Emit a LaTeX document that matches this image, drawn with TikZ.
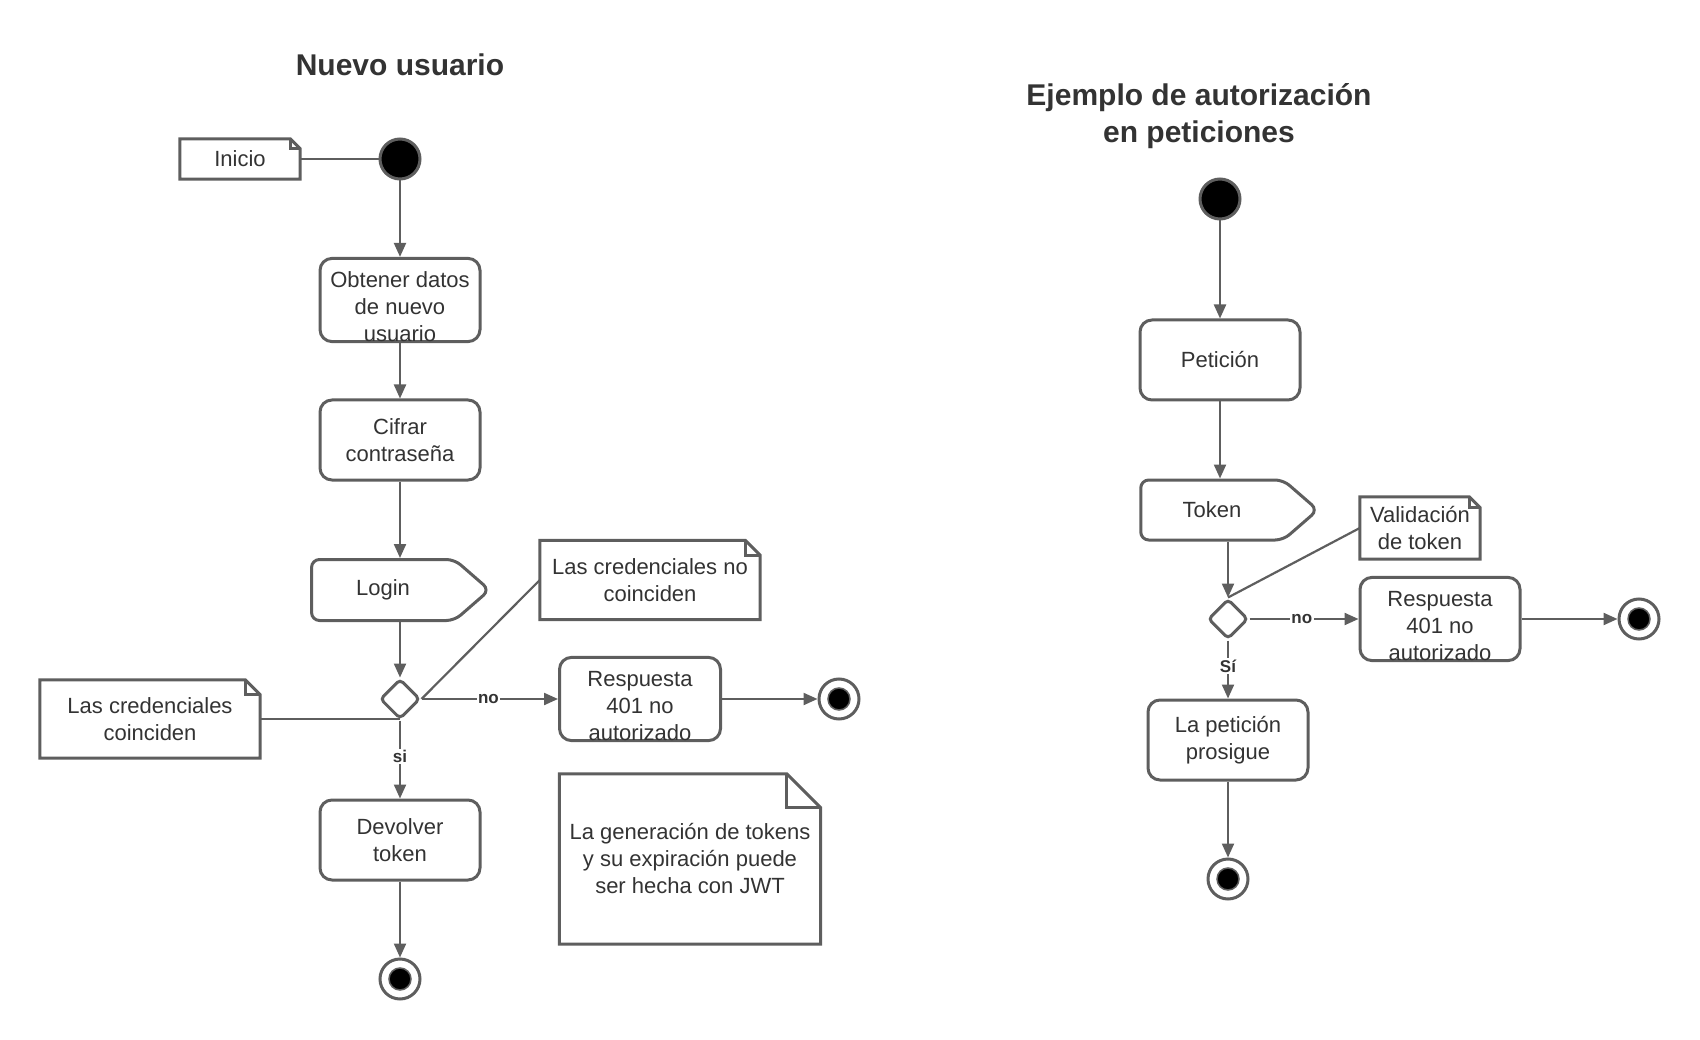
\documentclass[tikz,border=0pt]{standalone}
\usepackage{fontspec}
\setmainfont{Liberation Sans}
\usetikzlibrary{positioning,arrows.meta,shapes.geometric,shapes.symbols}
\definecolor{ink}{HTML}{333333}
\definecolor{edge}{HTML}{5E5E5E}
\newcommand{\lift}{\rule{0pt}{29pt}}
\tikzset{
  act/.style      = {draw=edge, fill=white, line width=3pt, rounded corners=12pt, minimum width=160pt, minimum height=80pt, inner sep=0pt, align=center, font=\fontsize{22}{27}\selectfont\color{ink}},
  sig/.style      = {shape=signal, signal to=east, signal pointer angle=82, draw=edge, fill=white, line width=3pt, rounded corners=8pt, minimum width=178pt, minimum height=61pt, inner sep=0pt, font=\fontsize{22}{27}\selectfont\color{ink}},
  memo/.style     = {fill=white, inner sep=0pt, align=center, font=\fontsize{22}{27}\selectfont\color{ink}},
  choice/.style   = {diamond, draw=edge, fill=white, line width=3pt, rounded corners=4pt, minimum width=40pt, minimum height=40pt, inner sep=0pt},
  startdot/.style = {circle, draw=edge, fill=black, line width=3pt, minimum size=40pt, inner sep=0pt},
  enddot/.style   = {circle, draw=edge, fill=white, line width=3pt, minimum size=40pt, inner sep=0pt,
                     path picture={\filldraw[fill=black, draw=edge, line width=1.5pt] (path picture bounding box.center) circle (11pt);}},
  title/.style    = {align=center, font=\fontsize{30}{37}\selectfont\bfseries\color{ink}},
  guard/.style    = {fill=white, inner sep=1.5pt, font=\fontsize{17}{20}\selectfont\bfseries\color{ink}},
  flow/.style     = {-{Triangle[length=14pt,width=12pt]}, draw=edge, line width=2.2pt},
  link/.style     = {draw=edge, line width=2.2pt},
  fold/.style     = {draw=edge, line width=3pt, line join=miter},
}

\begin{document}
\begin{tikzpicture}[x=1pt,y=-1pt]
\path[use as bounding box] (0,0) rectangle (1700,1040);

% ---- nuevo usuario ------------------------------------------------------
\node[title] (titleA) at (400,65) {Nuevo usuario};

\node[startdot] (startA) at (400,159) {};
\node[memo, minimum width=120pt, minimum height=40pt] (inicio) at (240,159) {Inicio};
\node[act] (obtener) at (400,300) {\lift Obtener datos\\de nuevo\\usuario};
\node[act] (cifrar) at (400,440) {Cifrar\\contraseña};
\node[sig] (login) at (383,590) {Login};
\node[choice] (decA) at (400,699) {};
\node[memo, minimum width=220pt, minimum height=78pt] (coinc) at (150,719) {Las credenciales\\coinciden};
\node[memo, minimum width=220pt, minimum height=79pt] (nocoinc) at (650,580) {Las credenciales no\\coinciden};
\node[act, minimum width=161pt] (respA) at (640,699) {\lift Respuesta\\401 no\\autorizado};
\node[enddot] (endA) at (839,699) {};
\node[act] (devolver) at (400,840) {Devolver\\token};
\node[enddot] (endB) at (400,979) {};
\node[memo, minimum width=261pt, minimum height=170pt] (jwt) at (690,859) {La generación de tokens\\y su expiración puede\\ser hecha con JWT};

\draw[link] (inicio.east) -- (startA);
\draw[flow] (startA) -- (obtener);
\draw[flow] (obtener) -- (cifrar);
\draw[flow] (cifrar) -- (cifrar.south |- login.north);
\draw[flow] (cifrar.south |- login.south) -- (decA.north);
\draw[flow] (decA.east) -- node[guard, pos=0.49] {no} (respA.west);
\draw[flow] (respA) -- (endA);
\draw[flow] (decA.south) -- node[guard, pos=0.46] {si} (devolver.north);
\draw[flow] (devolver) -- (endB);
\draw[link] (coinc.east) -- (coinc.east -| decA.south);
\draw[link] (nocoinc.west) -- (decA.east);

% ---- autorizacion en peticiones -----------------------------------------
\node[title] (titleB) at (1199,116) {Ejemplo de autorización\\en peticiones};

\node[startdot] (startB) at (1220,199) {};
\node[act] (peticion) at (1220,360) {Petición};
\node[sig, minimum width=177pt, minimum height=60pt] (token) at (1212,510) {Token};
\node[choice] (decB) at (1228,619) {};
\node[memo, minimum width=120pt, minimum height=62pt] (valid) at (1420,528) {Validación\\de token};
\node[act] (respB) at (1440,619) {\lift Respuesta\\401 no\\autorizado};
\node[enddot] (endC) at (1639,619) {};
\node[act] (sigue) at (1228,740) {La petición\\prosigue};
\node[enddot] (endD) at (1228,879) {};

\draw[flow] (startB) -- (peticion);
\draw[flow] (peticion.south) -- (peticion.south |- token.north);
\draw[flow] (decB.north |- token.south) -- (decB.north);
\draw[flow] (decB.east) -- node[guard, pos=0.48] {no} (respB.west);
\draw[flow] (respB) -- (endC);
\draw[flow] (decB.south) -- node[guard, pos=0.44] {Sí} (sigue.north);
\draw[flow] (sigue) -- (endD);
\draw[link] (valid.west) -- (decB.north);

% ---- folded corners of the notes ----------------------------------------
\foreach \n/\f in {inicio/10, coinc/15, nocoinc/15, jwt/34, valid/11} {
  \draw[fold] (\n.north west) -- ([xshift=-\f pt]\n.north east) -- ([yshift=-\f pt]\n.north east) -- (\n.south east) -- (\n.south west) -- cycle;
  \draw[fold] ([xshift=-\f pt]\n.north east) |- ([yshift=-\f pt]\n.north east);
}

\end{tikzpicture}
\end{document}
